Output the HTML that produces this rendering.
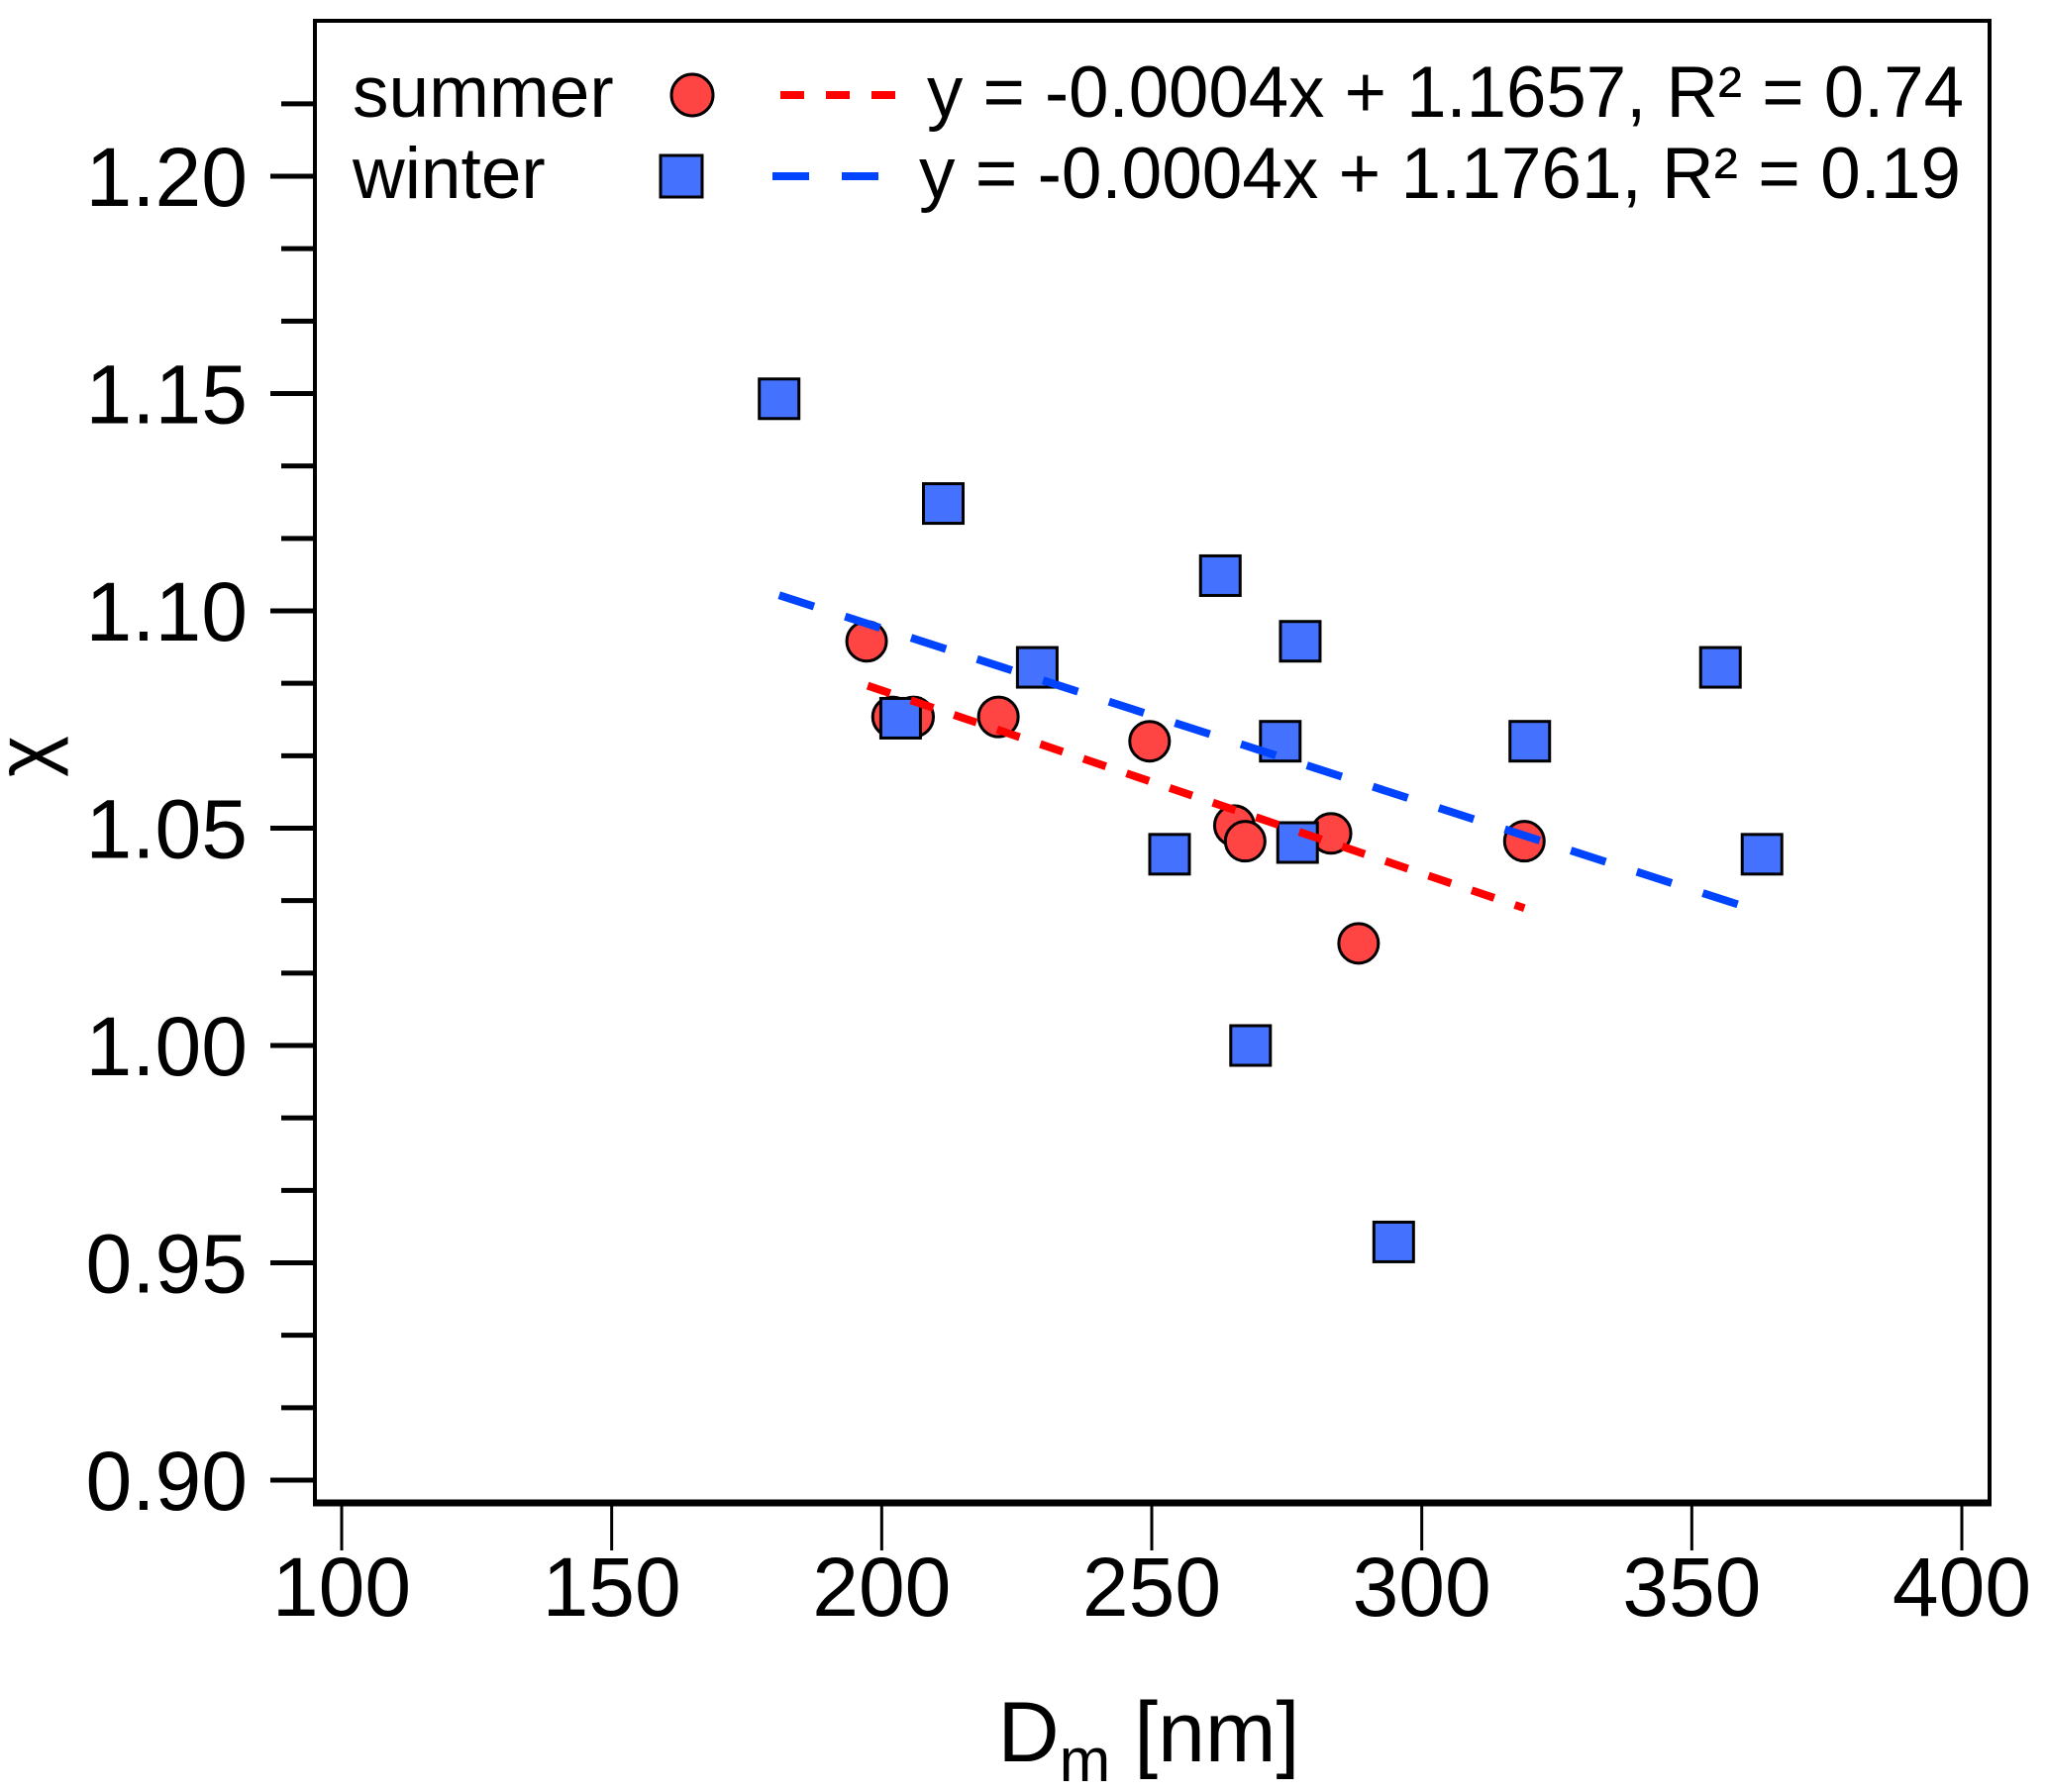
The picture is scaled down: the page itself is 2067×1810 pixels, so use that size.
<!DOCTYPE html>
<html><head><meta charset="utf-8"><style>
html,body{margin:0;padding:0;background:#fff}
svg{display:block;font-family:"Liberation Sans",Arial,sans-serif}
</style></head><body>
<svg id="chart" width="2067" height="1810" viewBox="0 0 2067 1810" xmlns="http://www.w3.org/2000/svg"></svg>
<script>
const summerX = [197.2, 202.0, 205.9, 221.6, 249.6, 265.3, 267.3, 283.2, 288.3, 319.0];
const summerY = [1.093, 1.0756, 1.0756, 1.0756, 1.070, 1.0506, 1.047, 1.0488, 1.0235, 1.047];
const winterX = [181.0, 203.5, 211.4, 228.8, 253.3, 262.7, 268.3, 273.8, 277.0, 277.5, 294.8, 320.0, 355.3, 363.0];
const winterY = [1.1488, 1.0753, 1.1247, 1.087, 1.044, 1.1081, 1.000, 1.070, 1.0467, 1.093, 0.9548, 1.070, 1.087, 1.044];
const summerFit = [-0.000421, 1.1659];
const summerFitRange = [197.4, 319.0];
const winterFit = [-0.0004006, 1.1761];
const winterFitRange = [181.0, 363.0];
const xTicks = [100, 150, 200, 250, 300, 350, 400];
const xTickLabels = ["100","150","200","250","300","350","400"];
const yTicks = [0.90, 0.95, 1.00, 1.05, 1.10, 1.15, 1.20];
const yTickLabels = ["0.90","0.95","1.00","1.05","1.10","1.15","1.20"];

const NS = "http://www.w3.org/2000/svg";
const svg = document.getElementById("chart");
const L = 318, T = 21, R = 2009, B = 1518;
function xs(v){ return 345 + (v - 100) * (1981 - 345) / 300; }
function ys(v){ return 178 + (1.20 - v) * 219.5 / 0.05; }
function mk(tag, attrs, parent){
  const e = document.createElementNS(NS, tag);
  for (const k in attrs) e.setAttribute(k, attrs[k]);
  (parent || svg).appendChild(e);
  return e;
}
const frame = mk("rect", {x:L, y:T, width:R-L, height:B-T, fill:"none", stroke:"#000", "stroke-width":4});


const bottomAxis = mk("line", {x1:L-2, y1:B, x2:R+2, y2:B, stroke:"#000", "stroke-width":7});



for (let i = 0; i <= 19; i++) {
  const v = 0.90 + i * 0.05 / 3;
  const major = i % 3 === 0;
  const y = ys(v);
  const t = mk("line", {x1: major ? 273 : 284, y1:y, x2:L, y2:y, stroke:"#000", "stroke-width":5});
  
  
}
yTicks.forEach((v, i) => {
  const t = mk("text", {x:250, y:ys(v)+30, "text-anchor":"end", "font-size":84, fill:"#000"});
  t.textContent = yTickLabels[i];
  
  
});
xTicks.forEach((v, i) => {
  const x = xs(v);
  const t = mk("line", {x1:x, y1:B, x2:x, y2:1566, stroke:"#000", "stroke-width":3});
  
  
  const l = mk("text", {x:x, y:1632, "text-anchor":"middle", "font-size":84, fill:"#000"});
  l.textContent = xTickLabels[i];
  
  
});
const xt = mk("text", {x:1160, y:1779, "text-anchor":"middle", "font-size":86, fill:"#000"});
xt.innerHTML = 'D<tspan font-size="62" dy="20">m</tspan><tspan dy="-20"> [nm]</tspan>';


const yt = mk("text", {x:52, y:764, "text-anchor":"middle", "font-size":80, fill:"#000", "font-family":"'Liberation Sans','DejaVu Sans',sans-serif", transform:"rotate(-90 52 764)"});
yt.textContent = "\u03C7";



summerX.forEach((x, i) => {
  const c = mk("circle", {cx:xs(x), cy:ys(summerY[i]), r:20, fill:"#ff4444", stroke:"#000", "stroke-width":3});
  
  
});
winterX.forEach((x, i) => {
  const s = mk("rect", {x:xs(x)-20, y:ys(winterY[i])-20, width:40, height:40, fill:"#4472ff", stroke:"#000", "stroke-width":3});
  
  
});
function fitLine(fit, range, color, dash, name){
  const l = mk("line", {x1:xs(range[0]), y1:ys(fit[1]+fit[0]*range[0]), x2:xs(range[1]), y2:ys(fit[1]+fit[0]*range[1]), stroke:color, "stroke-width":8, "stroke-dasharray":dash});
  
  
}
fitLine(summerFit, summerFitRange, "#ff0000", "24 22", "summer-trend-line");
fitLine(winterFit, winterFitRange, "#0044ff", "37 33", "winter-trend-line");

const g = mk("g", {});


const ls = mk("text", {x:356, y:118, "font-size":73, fill:"#000"}, g);
ls.textContent = "summer";


const lw = mk("text", {x:356, y:200, "font-size":73, fill:"#000"}, g);
lw.textContent = "winter";


const lc = mk("circle", {cx:699, cy:96, r:21, fill:"#ff4444", stroke:"#000", "stroke-width":3}, g);


const lq = mk("rect", {x:667, y:157, width:42, height:42, fill:"#4472ff", stroke:"#000", "stroke-width":3}, g);


const lr = mk("line", {x1:788, y1:96, x2:910, y2:96, stroke:"#ff0000", "stroke-width":8, "stroke-dasharray":"24 22"}, g);


const lb = mk("line", {x1:780, y1:178, x2:920, y2:178, stroke:"#0044ff", "stroke-width":8, "stroke-dasharray":"37 33"}, g);


const e1 = mk("text", {x:936, y:118, "font-size":73, fill:"#000", textLength:1047, lengthAdjust:"spacingAndGlyphs"}, g);
e1.textContent = "y = -0.0004x + 1.1657, R\u00B2 = 0.74";


const e2 = mk("text", {x:928, y:200, "font-size":73, fill:"#000", textLength:1052, lengthAdjust:"spacingAndGlyphs"}, g);
e2.textContent = "y = -0.0004x + 1.1761, R\u00B2 = 0.19";


</script>
</body></html>
